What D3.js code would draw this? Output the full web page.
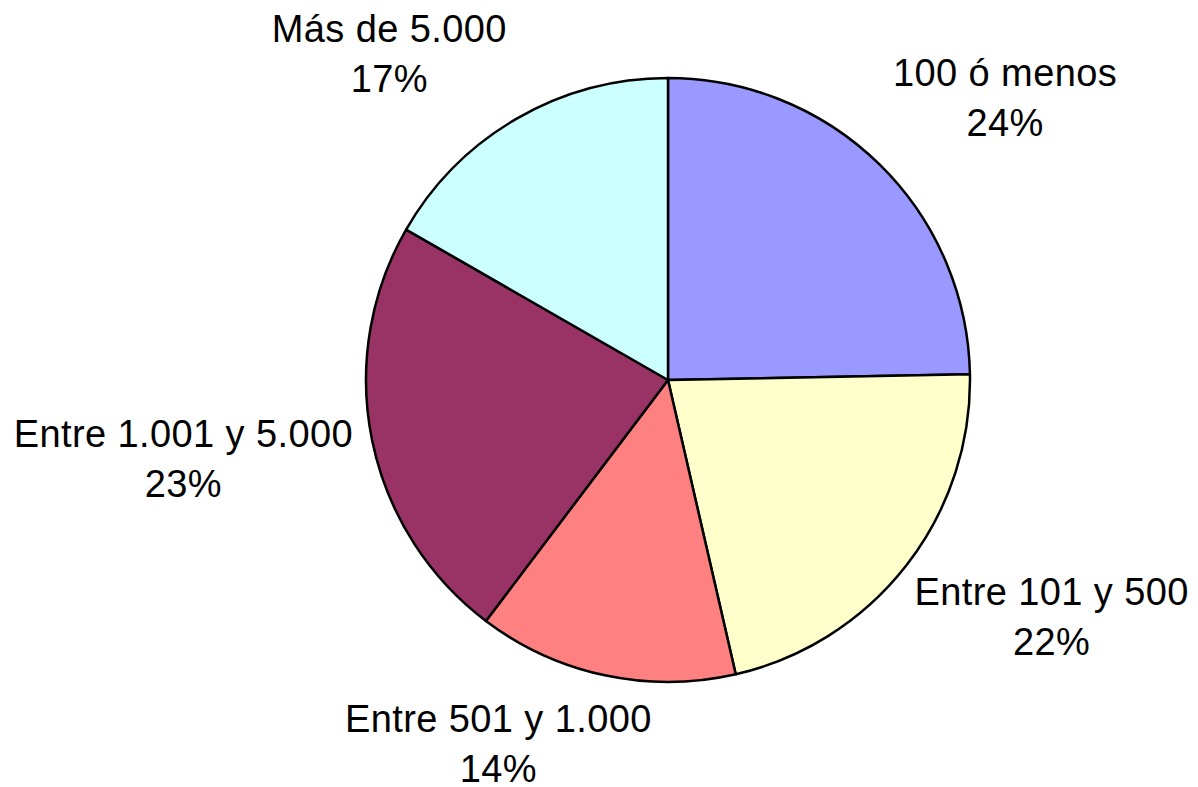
<!DOCTYPE html>
<meta charset="utf-8">
<style>
body {
  margin: 0;
  background-color: #FFFFFF;
}
.slice {
  stroke: #000000;
  stroke-width: 2.5px;
  stroke-linejoin: round;
}
.label {
  font: 38px "Liberation Sans", Arial, sans-serif;
  letter-spacing: 0.4px;
  fill: #000000;
}
</style>
<body>
<script src="https://cdn.jsdelivr.net/npm/d3@7"></script>
<script>
// slices, clockwise from 12 o'clock
var categories = ["100 ó menos", "Entre 101 y 500", "Entre 501 y 1.000", "Entre 1.001 y 5.000", "Más de 5.000"];
var values = [24.7, 21.7, 13.9, 23.0, 16.7];
var percentLabels = ["24%", "22%", "14%", "23%", "17%"];
var colors = ["#9999FF", "#FFFFCC", "#FF8080", "#993366", "#CCFFFF"];

// where each label block sits: angle (deg, clockwise from top) and distance in radii
var labelPolar = [[50.1, 1.455], [121.7, 1.493], [205.0, 1.329], [260.7, 1.626], [319.5, 1.421]];

var svg = d3.select("body")
    .append("svg")
    .attr("width", 1198)
    .attr("height", 787),
    cx = 668,
    cy = 380,
    radius = 302;

var data = categories.map(function(c, i) {
  return {name: c, value: values[i], pct: percentLabels[i], color: colors[i], pos: labelPolar[i]};
});

var pie = d3.pie()
    .sort(null)
    .value(function(d) { return d.value; });

var arc = d3.arc()
    .innerRadius(0)
    .outerRadius(radius);

var g = svg.append("g")
    .attr("transform", "translate(" + cx + "," + cy + ")");

g.selectAll(".slice")
    .data(pie(data))
  .enter().append("path")
    .attr("class", "slice")
    .attr("fill", function(d) { return d.data.color; })
    .attr("d", arc);

var lineGap = 50;

var labels = g.selectAll(".label")
    .data(data)
  .enter().append("text")
    .attr("class", "label")
    .attr("text-anchor", "middle")
    .attr("transform", function(d) {
      var a = d.pos[0] * Math.PI / 180,
          r = d.pos[1] * radius;
      // block centre -> first baseline sits 12px above it
      return "translate(" + (Math.sin(a) * r) + "," + (-Math.cos(a) * r - 12) + ")";
    });

labels.append("tspan")
    .attr("x", 0)
    .attr("y", 0)
    .text(function(d) { return d.name; });

labels.append("tspan")
    .attr("x", 0)
    .attr("y", lineGap)
    .text(function(d) { return d.pct; });
</script>
</body>
